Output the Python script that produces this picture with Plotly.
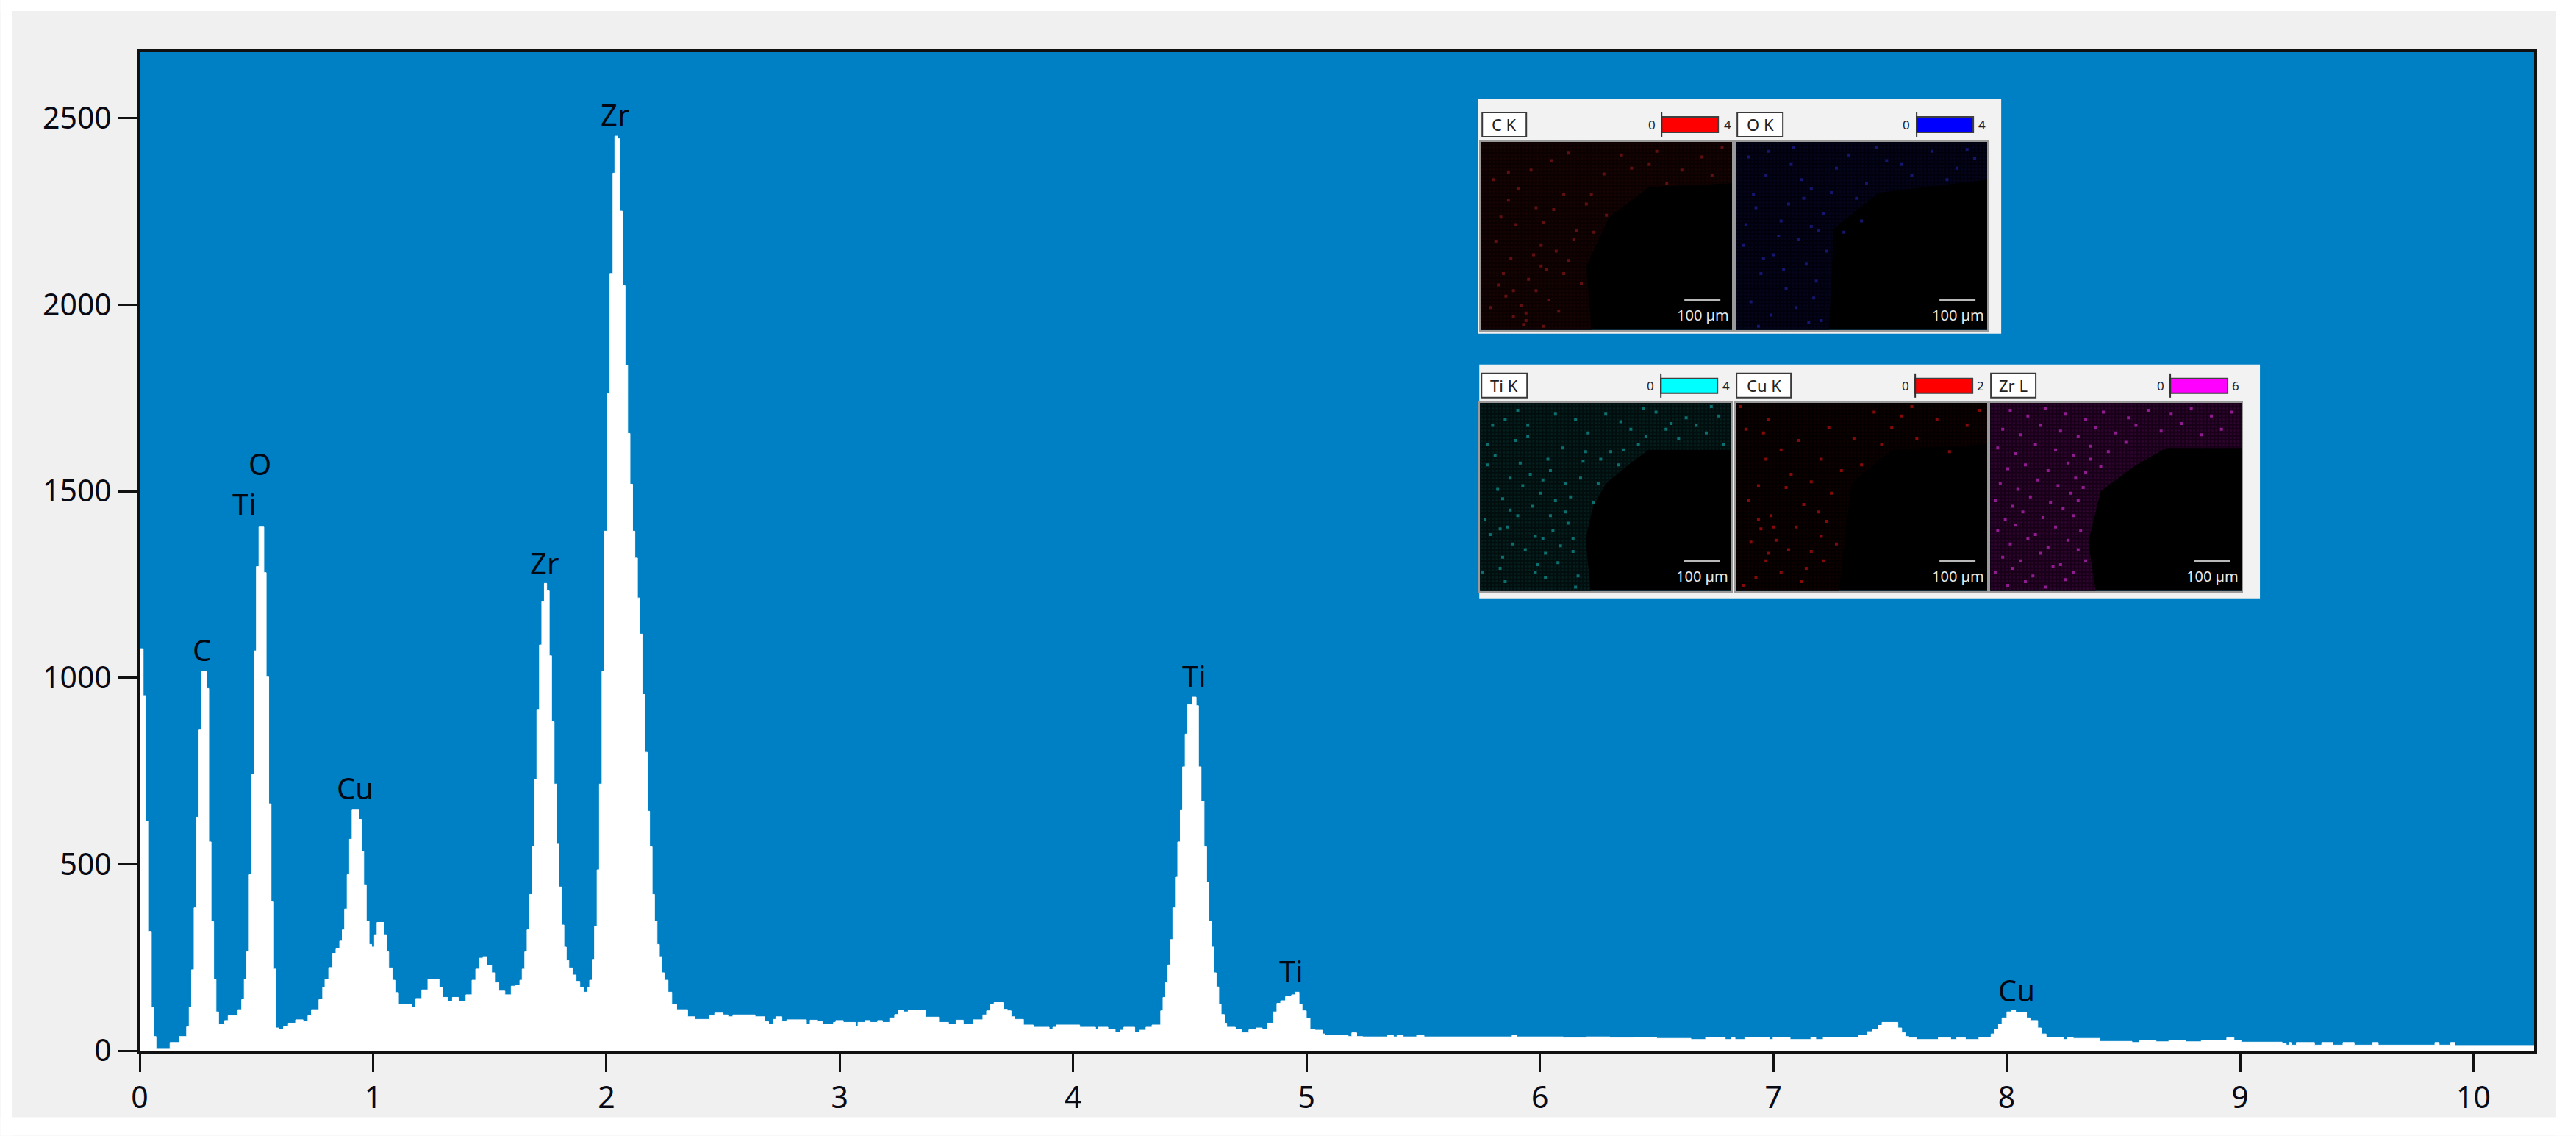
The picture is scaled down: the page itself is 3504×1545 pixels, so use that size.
import plotly.graph_objects as go

# ---------- spectrum (energy in keV at the left edge of each step, counts) ----------
energy_kev = [0.000,0.015,0.025,0.035,0.050,0.060,0.070,0.130,0.170,0.201,0.212,0.222,0.233,0.243,0.254,0.264,0.285,0.296,0.306,0.317,0.327,0.338,0.364,0.379,0.421,0.437,0.448,0.458,0.469,0.479,
 0.490,0.500,0.511,0.532,0.542,0.553,0.563,0.574,0.584,0.595,0.616,0.637,0.668,0.700,0.721,0.736,0.768,0.784,0.794,0.810,0.826,0.841,0.857,0.868,0.878,0.889,0.899,0.910,0.939,0.950,
 0.960,0.971,0.983,0.994,1.006,1.017,1.046,1.057,1.067,1.083,1.094,1.109,1.167,1.183,1.209,1.235,1.283,1.298,1.319,1.340,1.366,1.398,1.424,1.440,1.456,1.471,1.487,1.508,1.524,1.539,
 1.565,1.592,1.608,1.629,1.639,1.650,1.660,1.671,1.681,1.692,1.702,1.713,1.723,1.734,1.744,1.755,1.765,1.776,1.786,1.797,1.807,1.818,1.828,1.839,1.855,1.870,1.886,1.902,1.918,1.928,
 1.939,1.949,1.960,1.970,1.981,1.991,2.005,2.015,2.028,2.036,2.049,2.057,2.068,2.080,2.091,2.101,2.112,2.122,2.133,2.143,2.154,2.164,2.175,2.185,2.196,2.206,2.217,2.227,2.238,2.248,
 2.264,2.280,2.301,2.348,2.380,2.443,2.464,2.500,2.521,2.542,2.637,2.679,2.695,2.716,2.726,2.752,2.773,2.857,2.873,2.905,2.926,2.973,2.983,3.015,3.067,3.078,3.109,3.130,3.162,3.183,
 3.214,3.235,3.251,3.272,3.293,3.367,3.424,3.466,3.498,3.529,3.571,3.613,3.629,3.645,3.661,3.703,3.718,3.734,3.750,3.787,3.829,3.897,3.913,3.928,4.028,4.096,4.107,4.149,4.180,4.201,
 4.217,4.264,4.285,4.312,4.338,4.375,4.385,4.396,4.406,4.417,4.427,4.438,4.448,4.459,4.469,4.480,4.490,4.511,4.527,4.537,4.548,4.561,4.572,4.582,4.593,4.603,4.613,4.624,4.634,4.648,
 4.658,4.695,4.721,4.753,4.784,4.810,4.831,4.858,4.873,4.889,4.910,4.936,4.952,4.968,4.981,4.999,5.015,5.036,5.068,5.078,5.178,5.194,5.215,5.241,5.346,5.372,5.388,5.414,5.472,5.503,
 5.881,5.902,5.955,6.100,6.200,6.300,6.400,6.500,6.647,6.710,6.794,6.820,6.836,6.878,6.983,6.999,7.072,7.161,7.182,7.214,7.366,7.403,7.424,7.450,7.466,7.534,7.550,7.566,7.581,7.613,
 7.707,7.760,7.786,7.823,7.881,7.933,7.949,7.965,7.980,8.001,8.022,8.038,8.085,8.101,8.133,8.148,8.169,8.243,8.259,8.285,8.400,8.537,8.567,8.640,8.695,8.767,8.834,8.943,8.974,9.004,
 9.180,9.198,9.210,9.222,9.241,9.319,9.350,9.398,9.441,9.489,9.568,9.592,9.835,9.853,9.902,9.920,10.260]
counts = [1078,952,616,320,116,38,6,22,38,64,117,217,383,626,860,1017,971,560,346,191,104,70,81,94,110,137,191,265,472,741,
 1072,1298,1404,1282,1002,662,399,219,61,58,64,74,83,78,94,110,137,170,191,223,261,275,294,324,380,472,567,647,620,534,
 445,347,285,278,311,344,311,265,222,189,156,124,117,140,163,191,170,143,133,143,133,150,189,219,248,252,229,209,183,160,
 150,173,176,189,219,265,324,419,547,728,915,1088,1204,1253,1233,1059,882,715,554,439,337,278,242,222,203,186,170,157,170,189,
 245,334,485,715,1017,1393,1762,2084,2353,2452,2445,2251,2051,1838,1655,1519,1393,1321,1214,1117,955,800,642,547,419,347,285,252,209,189,
 157,124,110,91,84,94,101,96,91,96,91,78,71,84,91,78,83,71,82,78,70,76,81,76,65,76,81,76,81,76,
 88,97,109,104,109,90,76,70,82,70,83,96,107,124,129,111,107,91,84,69,63,57,63,69,63,58,63,57,50,55,
 63,50,55,63,69,107,143,183,230,298,383,465,560,646,761,849,928,948,925,761,669,547,452,347,278,209,171,124,97,74,
 63,58,49,56,61,58,74,104,127,134,145,150,157,124,107,87,58,55,45,42,38,48,38,37,42,37,42,37,42,37,
 42,37,37,35,37,35,36,33,30,36,30,35,30,36,30,36,30,36,30,36,42,51,56,68,76,61,48,38,35,30,
 35,30,35,30,36,45,58,71,88,104,109,103,88,81,61,45,36,30,36,33,25,22,28,24,28,24,28,35,28,23,
 19,15,22,15,22,15,22,15,22,15,22,15,22,15,22,14,14]

tick_x = list(range(0, 11))
tick_y = [0, 500, 1000, 1500, 2000, 2500]

peak_labels = ["C", "O", "Ti", "Cu", "Zr", "Zr", "Ti", "Ti", "Cu"]
peak_x = [0.266, 0.515, 0.449, 0.924, 1.734, 2.035, 4.52, 4.936, 8.043]
peak_y = [1075, 1574, 1465, 704, 1308, 2511, 1004, 214, 163]

# ---------- element maps: region outline and dots, percent of the tile (y from the top) ----------
ck_edge_x = [0,100,100,67,51,42,44,0]; ck_edge_y = [0,0,22,24,40,66,100,100]
ok_edge_x = [0,100,100,57,39,37,0];   ok_edge_y = [0,0,20,27,46,100,100]
ti_edge_x = [0,100,100,67,59,50,45,42,44,0]; ti_edge_y = [0,0,25,25,33,43,55,72,100,100]
cu_edge_x = [0,100,100,62,46,41,0];   cu_edge_y = [0,0,22,25,43,100,100]
zr_edge_x = [0,100,100,70,57,44,39,42,0]; zr_edge_y = [0,0,24,24,34,47,74,100,100]

ck_dot_x = [22,13,40,24,35,13,18,74,80,67,49,56,96,11,25,45,50,33,24,6,20,16,27,9,30,19,12,38,8,22,15,28,5,35,60,88,44,70,92,17,31,10,26,4,37,21,14,29,42,7,33,18,25,11]
ck_dot_y = [79,79,75,66,63,93,95,22,15,12,17,7,3,31,43,48,39,28,55,53,15,87,84,70,58,73,62,47,40,35,25,10,20,6,14,8,28,5,18,97,90,82,68,88,52,60,44,36,33,76,70,91,98,16]
ok_dot_x = [5,12,22,30,8,18,27,35,40,3,15,25,33,10,20,28,36,6,14,24,32,9,19,29,45,52,60,70,78,88,95,48,56,66,84,92,38,43,50,13,23,31,7,17,26,4,34,11,21,30]
ok_dot_y = [8,18,12,25,35,42,30,38,14,55,60,52,47,70,78,65,58,85,92,88,74,98,68,96,7,22,10,18,5,14,9,30,3,12,20,4,27,48,42,5,3,83,28,50,20,44,95,62,33,45]
ti_dot_x = [38,10,15,74,86,79,65,95,19,41,16,9,24,30,45,28,11,22,25,37,37,9,39,26,38,56,57,47,25,34,55,66,5,14,3,20,33,7,12,29,2,18,31,43,50,60,70,82,90,97,8,27,35,1,13,21,40,6,17,32,4,23,36,10,19,28,42,15,26,30,12,3,34,8,22,48,52,63,76,92]
ti_dot_y = [9,9,4,14,12,19,3,7,18,31,32,51,48,52,53,60,66,71,72,72,79,82,92,93,98,10,25,43,41,43,33,18,12,20,33,38,24,46,57,68,62,78,85,16,6,14,5,8,16,22,88,30,64,90,75,55,40,28,44,76,70,86,50,95,12,36,26,60,80,6,40,22,58,67,90,30,26,22,11,2]
cu_dot_x = [2,4,11,12,13,18,22,25,30,34,37,42,47,50,58,62,66,72,80,85,92,97,5,9,14,20,27,33,38,10,6,16,24,30,35,12,18,8,28,34,3,21,26,15,36,40,55,70,9,13]
cu_dot_y = [2,14,16,30,9,25,38,20,42,30,13,36,19,33,22,13,7,19,9,26,12,4,52,62,60,45,54,58,48,67,74,73,66,79,84,84,90,93,88,71,97,78,95,66,63,75,5,2,44,80]
zr_dot_x = [8,15,22,30,38,45,55,63,72,80,88,96,5,12,20,28,35,42,50,58,68,76,84,92,3,10,18,26,33,40,47,54,7,14,23,31,38,44,4,11,19,27,34,2,9,16,24,32,37,6,13,21,29,35,3,10,18,26,33,8,15,23,31,36,5,12,20,28,35,2,9,17,25,33,38,7,14,22,30,40]
zr_dot_y = [4,7,3,6,9,5,8,4,6,3,7,5,14,17,12,15,18,13,16,12,15,11,17,14,24,27,22,25,28,23,26,21,35,33,36,32,37,34,43,46,41,44,40,52,55,50,53,48,45,62,58,61,56,52,68,65,70,66,60,75,72,77,73,68,82,84,80,86,78,90,88,92,87,90,84,97,95,98,94,30]

GREY = "#f0f0f0"; BLUE = "#0080c4"; PANEL = "#f2f2f2"
W, H = 3504, 1545
L, R, T, B = 189.5, 3447, 71, 1429.5

def px(v):
    return (v - L) / (R - L)
def py(v):
    return (B - v) / (B - T)

fig = go.Figure()
fig.add_trace(go.Scatter(x=energy_kev, y=counts, mode="lines", line=dict(color="white", width=1, shape="hv"),
                         fill="tozeroy", fillcolor="white", hoverinfo="skip", showlegend=False))

shapes = []
annotations = []
for xx, yy, tt in zip(peak_x, peak_y, peak_labels):
    annotations.append(dict(x=xx, y=yy, text=tt, showarrow=False, xref="x", yref="y",
                            font=dict(family="Noto Sans", size=40, color="#000814")))

def paper_rect(x0, y0, x1, y1, fill, line=None, width=0, layer="above"):
    shapes.append(dict(type="rect", xref="paper", yref="paper", x0=px(x0), x1=px(x1), y0=py(y0), y1=py(y1),
                       fillcolor=fill, line=dict(color=line or fill, width=width), layer=layer))

# white page margin outside the grey window
paper_rect(0, 0, W, 15, "white", layer="below")
paper_rect(0, 1520, W, H, "white", layer="below")
paper_rect(0, 0, 16, H, "white", layer="below")
paper_rect(3477, 0, W, H, "white", layer="below")
# light inset panels
paper_rect(2010, 134, 2722, 454, PANEL, layer="below")
paper_rect(2012, 496, 3074, 814, PANEL, layer="below")

def small_text(x, y, t, size, color="#222222"):
    annotations.append(dict(xref="paper", yref="paper", x=px(x), y=py(y), text=t, showarrow=False,
                            xanchor="center", yanchor="middle",
                            font=dict(family="Noto Sans", size=size, color=color)))

tiles = [
    dict(name="C K", left=2014, top=193, box=(2016, 2076), ybox=(153, 186), bar=(2260, 2337), ybar=(159, 180), zero=2247, hi=2350, himark="4",
         color="#ff0000", ex=ck_edge_x, ey=ck_edge_y, dx=ck_dot_x, dy=ck_dot_y, region="#0c0101", fg="#220404", dot="#601010"),
    dict(name="O K", left=2361, top=193, box=(2363, 2425), ybox=(153, 186), bar=(2607, 2684), ybar=(159, 180), zero=2593, hi=2696, himark="4",
         color="#0000ff", ex=ok_edge_x, ey=ok_edge_y, dx=ok_dot_x, dy=ok_dot_y, region="#01010e", fg="#06062c", dot="#161670"),
    dict(name="Ti K", left=2013, top=548, box=(2015, 2077), ybox=(508, 541), bar=(2259, 2336), ybar=(515, 535), zero=2245, hi=2348, himark="4",
         color="#00ffff", ex=ti_edge_x, ey=ti_edge_y, dx=ti_dot_x, dy=ti_dot_y, region="#010e0d", fg="#053030", dot="#0c7070"),
    dict(name="Cu K", left=2361, top=548, box=(2362, 2436), ybox=(508, 541), bar=(2605, 2683), ybar=(515, 535), zero=2592, hi=2694, himark="2",
         color="#ff0000", ex=cu_edge_x, ey=cu_edge_y, dx=cu_dot_x, dy=cu_dot_y, region="#040000", fg="#1c0202", dot="#860a0a"),
    dict(name="Zr L", left=2707, top=548, box=(2708, 2769), ybox=(508, 541), bar=(2952, 3030), ybar=(515, 535), zero=2939, hi=3041, himark="6",
         color="#ff00ff", ex=zr_edge_x, ey=zr_edge_y, dx=zr_dot_x, dy=zr_dot_y, region="#180018", fg="#440844", dot="#901c90"),
]
TW, TH = 342, 256
layout_axes = {}
for i, t in enumerate(tiles):
    n = i + 2
    l, tp = t["left"], t["top"]
    layout_axes[f"xaxis{n}"] = dict(domain=[px(l), px(l + TW)], range=[0, 100], anchor=f"y{n}", visible=True,
                                    showticklabels=False, ticks="", showgrid=False, zeroline=False,
                                    showline=True, mirror=True, linecolor="#9a9a9a", linewidth=2)
    layout_axes[f"yaxis{n}"] = dict(domain=[py(tp + TH), py(tp)], range=[100, 0], anchor=f"x{n}", visible=True,
                                    showticklabels=False, ticks="", showgrid=False, zeroline=False,
                                    showline=True, mirror=True, linecolor="#9a9a9a", linewidth=2)
    fig.add_trace(go.Heatmap(x=[0, 100], y=[0, 100], z=[[0, 0], [0, 0]], colorscale=[[0, "black"], [1, "black"]],
                             showscale=False, hoverinfo="skip", xaxis=f"x{n}", yaxis=f"y{n}", xgap=0, ygap=0))
    fig.add_trace(go.Scatter(x=t["ex"], y=t["ey"], mode="none", fill="toself", fillcolor=t["region"],
                             fillpattern=dict(shape=".", size=5, solidity=0.3, fgcolor=t["fg"], bgcolor=t["region"]),
                             xaxis=f"x{n}", yaxis=f"y{n}", showlegend=False, hoverinfo="skip"))
    fig.add_trace(go.Scatter(x=t["dx"], y=t["dy"], mode="markers",
                             marker=dict(symbol="square", size=4, color=t["dot"], line=dict(width=0)),
                             xaxis=f"x{n}", yaxis=f"y{n}", showlegend=False, hoverinfo="skip"))
    # label box, colour bar, limits
    b0, b1 = t["box"]; yb0, yb1 = t["ybox"]
    paper_rect(b0, yb0, b1, yb1, "white", line="#3a3a3a", width=2)
    small_text((b0 + b1) / 2, (yb0 + yb1) / 2, t["name"], 22)
    c0, c1 = t["bar"]; yc0, yc1 = t["ybar"]
    paper_rect(c0, yc0, c1, yc1, t["color"], line="#404040", width=2)
    paper_rect(c0 - 1, yb0, c0 + 1, yb1, "#303030")
    small_text(t["zero"], (yc0 + yc1) / 2, "0", 17)
    small_text(t["hi"], (yc0 + yc1) / 2, t["himark"], 17)
    # scale bar
    paper_rect(l + 277, tp + 214, l + 326, tp + 217, "#b8b8b8")
    small_text(l + 302, tp + 236, "100 µm", 20, "#e8e8e8")

fig.update_layout(
    width=W, height=H, autosize=False,
    margin=dict(l=L, r=W - R, t=T, b=H - B, pad=0),
    paper_bgcolor=GREY, plot_bgcolor=BLUE,
    font=dict(family="Noto Sans", size=41, color="#0a0a14"),
    xaxis=dict(range=[0, 10.26], tickmode="array", tickvals=tick_x, ticktext=[str(v) for v in tick_x], ticks="outside", ticklen=25,
               tickwidth=3, tickcolor="#111111", showline=True, linewidth=4, linecolor="#111111", mirror=True,
               showgrid=False, zeroline=False),
    yaxis=dict(range=[0, 2677], tickmode="array", tickvals=tick_y, ticktext=[str(v) for v in tick_y], ticks="outside", ticklen=26,
               tickwidth=3, tickcolor="#111111", showline=True, linewidth=4, linecolor="#111111", mirror=True,
               showgrid=False, zeroline=False),
    shapes=shapes, annotations=annotations, showlegend=False, **layout_axes,
)
fig.write_html("out.html", config={"displayModeBar": False},
               post_script="document.body.style.margin='0';document.documentElement.style.background='white';")
